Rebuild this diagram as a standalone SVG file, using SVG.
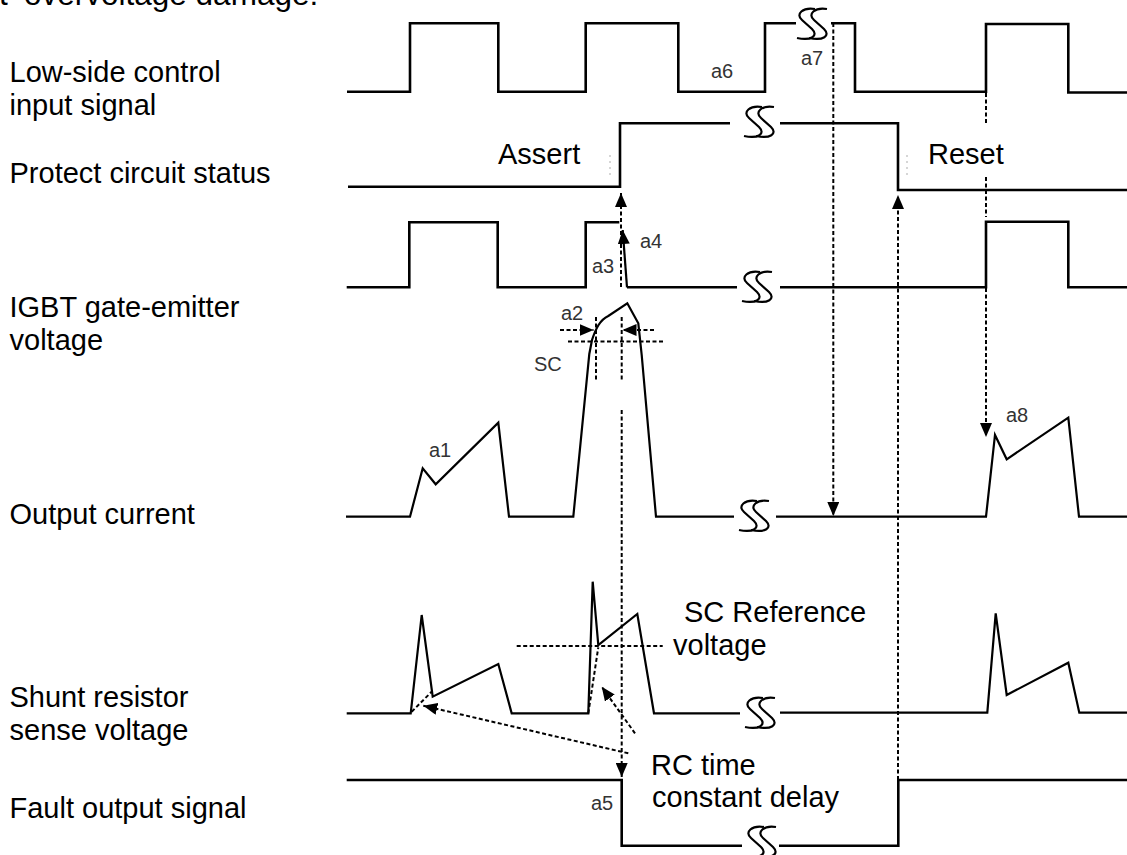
<svg xmlns="http://www.w3.org/2000/svg" width="1127" height="855" viewBox="0 0 1127 855">
<style>
.tr{fill:none;stroke:#000;stroke-width:2.6;stroke-linejoin:miter}
.an{fill:none;stroke:#000;stroke-width:2.2;stroke-linejoin:miter}
.dot{fill:none;stroke:#000;stroke-width:2;stroke-dasharray:4 2.5}
.faint{fill:none;stroke:#bbb;stroke-width:1.2;stroke-dasharray:2 4}
.lbl{font-family:"Liberation Sans",Arial,sans-serif;font-size:29px;fill:#000}
.sm{font-family:"Liberation Sans",Arial,sans-serif;font-size:20px;fill:#333}
.brk{fill:none;stroke:#000;stroke-width:2.2}
</style>
<defs>
<marker id="ah" viewBox="0 0 14 12" refX="14" refY="6" markerWidth="14" markerHeight="12" markerUnits="userSpaceOnUse" orient="auto">
<path d="M0,0 L14,6 L0,12 z" fill="#000"/>
</marker>
<g id="brk" class="brk">
<path d="M4,-15 C-8,-17 -16,-10 -9,-4 L1,5 C8,12 0,17 -14,14"/>
<path d="M16,-15 C4,-17 -4,-10 3,-4 L13,5 C20,12 12,17 -2,14"/>
</g>
</defs>
<rect width="1127" height="855" fill="#fff"/>

<text class="lbl" style="font-size:31.5px" y="4.5"><tspan x="-1">t</tspan><tspan x="24">overvoltage damage:</tspan></text>

<g id="labels">
<text class="lbl" x="9.5" y="82">Low-side control</text>
<text class="lbl" x="9.5" y="115">input signal</text>
<text class="lbl" x="9.5" y="183">Protect circuit status</text>
<text class="lbl" x="9.5" y="317">IGBT gate-emitter</text>
<text class="lbl" x="9.5" y="350">voltage</text>
<text class="lbl" x="9.5" y="524">Output current</text>
<text class="lbl" x="9.5" y="707">Shunt resistor</text>
<text class="lbl" x="9.5" y="740">sense voltage</text>
<text class="lbl" x="9.5" y="818">Fault output signal</text>
</g>

<g id="sig-lowside">
<path class="tr" d="M347,91.7 L410,91.7 L410,23.3 L498.3,23.3 L498.3,91.7 L585.7,91.7 L585.7,23.3 L678.3,23.3 L678.3,91.7 L765,91.7 L765,23.3 L796,23.3 M831,23.3 L855,23.3 L855,91.7 L986,91.7 L986,24 L1068.3,24 L1068.3,92.5 L1127,92.5"/>
<use href="#brk" x="811" y="24"/>
<text class="sm" x="711" y="78">a6</text>
<text class="sm" x="801" y="65">a7</text>
</g>

<g id="sig-protect">
<path class="tr" d="M348,186.7 L620,186.7 L620,123.3 L730,123.3 M780,123.3 L898,123.3 L898,190 L1127,190"/>
<use href="#brk" x="758" y="122"/>
<path class="faint" d="M610,155 L610,176 M907,155 L907,176"/>
<text class="lbl" x="498" y="164">Assert</text>
<text class="lbl" x="928" y="164">Reset</text>
</g>

<g id="sig-gate">
<path class="tr" d="M346.7,287.3 L409.3,287.3 L409.3,222.3 L497.7,222.3 L497.7,287.3 L585.7,287.3 L585.7,222.3 L619.3,222.3 M627,287.3 L737,287.3 M780,287.3 L986,287.3 L986,221.7 L1068.3,221.7 L1068.3,287.3 L1127,287.3"/>
<use href="#brk" x="756" y="287"/>
<text class="sm" x="640" y="248">a4</text>
<text class="sm" x="592" y="273">a3</text>
</g>

<g id="sig-current">
<path class="an" d="M346,516.7 L410,516.7 L422.7,468.3 L435.7,484.3 L498.3,422.7 L509,516.7 L573.3,516.7 L589.3,354 L592,340 C596,328 600,320 608.3,316 L627.3,303.3 L638.3,323.3 L641.7,355 L656,516.7 L734,516.7 M776,516.7 L986,516.7 L995,435 L1006.7,459.3 L1068.3,417.7 L1079,516.7 L1127,516.7"/>
<use href="#brk" x="753" y="516"/>
<text class="sm" x="561" y="320">a2</text>
<text class="sm" x="534" y="371">SC</text>
<text class="sm" x="429" y="457">a1</text>
<text class="sm" x="1006" y="422">a8</text>
</g>

<g id="sig-shunt">
<path class="an" d="M346.7,713.3 L410.7,713.3 L421.7,615 L432.7,696.7 L498.3,664 L511.7,713.3 L588.3,713.3 L592.7,581.7 L598.3,645 L637.3,614 L654,713.3 L740,713.3 M780,712.7 L987.3,712.7 L995.7,613.3 L1006.7,695 L1068.3,662.7 L1079.3,712.7 L1127,712.7"/>
<use href="#brk" x="759" y="713"/>
<text class="lbl" x="684" y="622">SC Reference</text>
<text class="lbl" x="673" y="655">voltage</text>
</g>

<g id="sig-fault">
<path class="tr" d="M346.7,780 L621.7,780 L621.7,845.7 L742,845.7 M779,845.7 L898.3,845.7 L898.3,780 L1127,780"/>
<use href="#brk" x="760" y="842"/>
<text class="lbl" x="651" y="775">RC time</text>
<text class="lbl" x="652" y="807">constant delay</text>
<text class="sm" x="591" y="810">a5</text>
</g>

<g id="connectors">
<path class="dot" d="M621,287 L621,193" marker-end="url(#ah)"/>
<path class="an" d="M627,287.3 L622.7,230" marker-end="url(#ah)"/>
<path class="dot" d="M596,317 L596,381 M621.7,317 L621.7,381 M568,341.5 L665,341.5"/>
<path class="dot" d="M560,330 L593.5,330" marker-end="url(#ah)"/>
<path class="dot" d="M654,330 L622.5,330" marker-end="url(#ah)"/>
<path class="dot" d="M621.7,410 L621.7,777" marker-end="url(#ah)"/>
<path class="dot" d="M833.3,23 L833.3,516" marker-end="url(#ah)"/>
<path class="dot" d="M898,780 L898,195" marker-end="url(#ah)"/>
<path class="dot" d="M986,93 L986,123 M986,177 L986,217"/>
<path class="dot" d="M986,288 L986,437" marker-end="url(#ah)"/>
<path class="dot" d="M516.7,646 L662.7,646"/>
<path class="dot" d="M628.3,753.3 L423.3,705.7" marker-end="url(#ah)"/>
<path class="dot" d="M635,733.3 L601.7,686.7" marker-end="url(#ah)"/>
<path class="dot" d="M411.7,711.7 L431.7,691.7 M588.3,713.3 L598.3,647.3"/>
</g>
</svg>
